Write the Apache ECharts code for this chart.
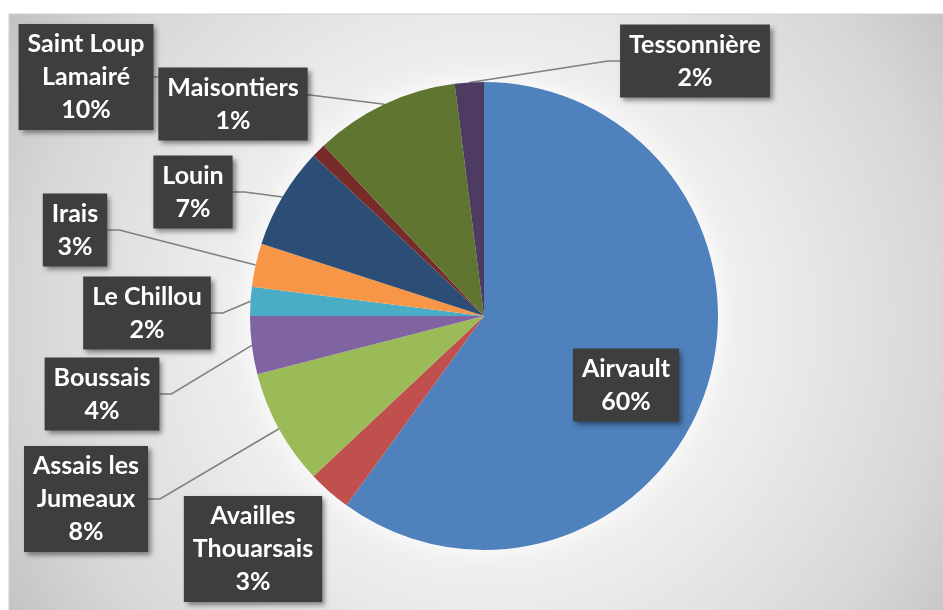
<!DOCTYPE html>
<html>
<head>
<meta charset="utf-8">
<title>Répartition par commune</title>
<script src="https://cdn.jsdelivr.net/npm/echarts/dist/echarts.min.js"></script>
<style>
  html, body { margin: 0; padding: 0; background: #ffffff; }
  #chart { width: 943px; height: 610px; }
</style>
</head>
<body>
<div id="chart"></div>
<script>
// communes, clockwise from 12 o'clock
const communes = [
  'Airvault', 'Availles\nThouarsais', 'Assais les\nJumeaux', 'Boussais',
  'Le Chillou', 'Irais', 'Louin', 'Maisontiers', 'Saint Loup\nLamairé', 'Tessonnière'
];
// share of each commune, in %
const parts = [60, 3, 8, 4, 2, 3, 7, 1, 10, 2];
const colors = [
  '#4f81bd', '#c0504d', '#9bbb59', '#8064a2', '#4bacc6',
  '#f79646', '#2c4d75', '#772c2a', '#5f7530', '#4d3b62'
];
// where each data label box sits (centre of the box)
const labelCenters = [
  [626, 385], [253, 549], [86, 499], [102, 394], [147, 313],
  [75, 230], [193, 192], [233, 104], [86, 77], [695, 61]
];
// labels drawn without a leader line
const noLine = [0, 1, 7];

const chart = echarts.init(document.getElementById('chart'));

const option = {
  animation: false,
  graphic: [
    {
      type: 'rect',
      z: -10,
      shape: { x: 9, y: 14, width: 940, height: 600 },
      style: {
        stroke: '#d0d0d0',
        lineWidth: 1,
        fill: {
          type: 'radial', x: 0.51, y: 0.51, r: 0.95,
          colorStops: [
            { offset: 0, color: '#ffffff' },
            { offset: 0.3, color: '#f6f6f6' },
            { offset: 0.5, color: '#ebebeb' },
            { offset: 0.8, color: '#d7d7d7' },
            { offset: 1, color: '#c2c2c2' }
          ]
        }
      }
    }
  ],
  series: [
    {
      // soft white glow behind the pie
      type: 'pie',
      silent: true,
      z: 1,
      center: [484, 316],
      radius: 234,
      label: { show: false },
      labelLine: { show: false },
      itemStyle: { color: '#ffffff', shadowBlur: 28, shadowColor: 'rgba(255,255,255,1)' },
      data: [{ value: 1 }]
    },
    {
      type: 'pie',
      z: 2,
      center: [484, 316],
      radius: 234,
      startAngle: 90,
      clockwise: true,
      avoidLabelOverlap: false,
      emphasis: { scale: false },
      itemStyle: { borderWidth: 0 },
      label: {
        show: true,
        position: 'outside',
        formatter: '{b}\n{c}%',
        color: '#ffffff',
        fontFamily: 'Lato',
        fontWeight: 'bold',
        fontSize: 25,
        lineHeight: 33,
        align: 'center',
        backgroundColor: '#3e3e3e',
        padding: [6, 9, 1, 9],
        shadowColor: 'rgba(0,0,0,0.45)',
        shadowBlur: 5,
        shadowOffsetX: 3,
        shadowOffsetY: 3
      },
      labelLine: {
        show: true,
        lineStyle: { color: '#7f7f7f', width: 1.5 }
      },
      labelLayout: function (p) {
        const i = p.dataIndex;
        const c = labelCenters[i];
        const w = p.labelRect.width;
        const res = { x: c[0], y: c[1], align: 'center', verticalAlign: 'middle' };
        if (p.labelLinePoints && noLine.indexOf(i) < 0) {
          const s = p.labelLinePoints[0];
          const right = c[0] < s[0];
          const ex = right ? c[0] + w / 2 : c[0] - w / 2;
          const stub = right ? ex + 12 : ex - 12;
          res.labelLinePoints = [[s[0], s[1]], [stub, c[1]], [ex, c[1]]];
        }
        return res;
      },
      data: communes.map(function (name, i) {
        const item = { name: name, value: parts[i], itemStyle: { color: colors[i] } };
        if (noLine.indexOf(i) >= 0) item.labelLine = { show: false };
        if (i === 0) item.label = { position: 'inside' };
        return item;
      })
    }
  ]
};

chart.setOption(option);
</script>
</body>
</html>
